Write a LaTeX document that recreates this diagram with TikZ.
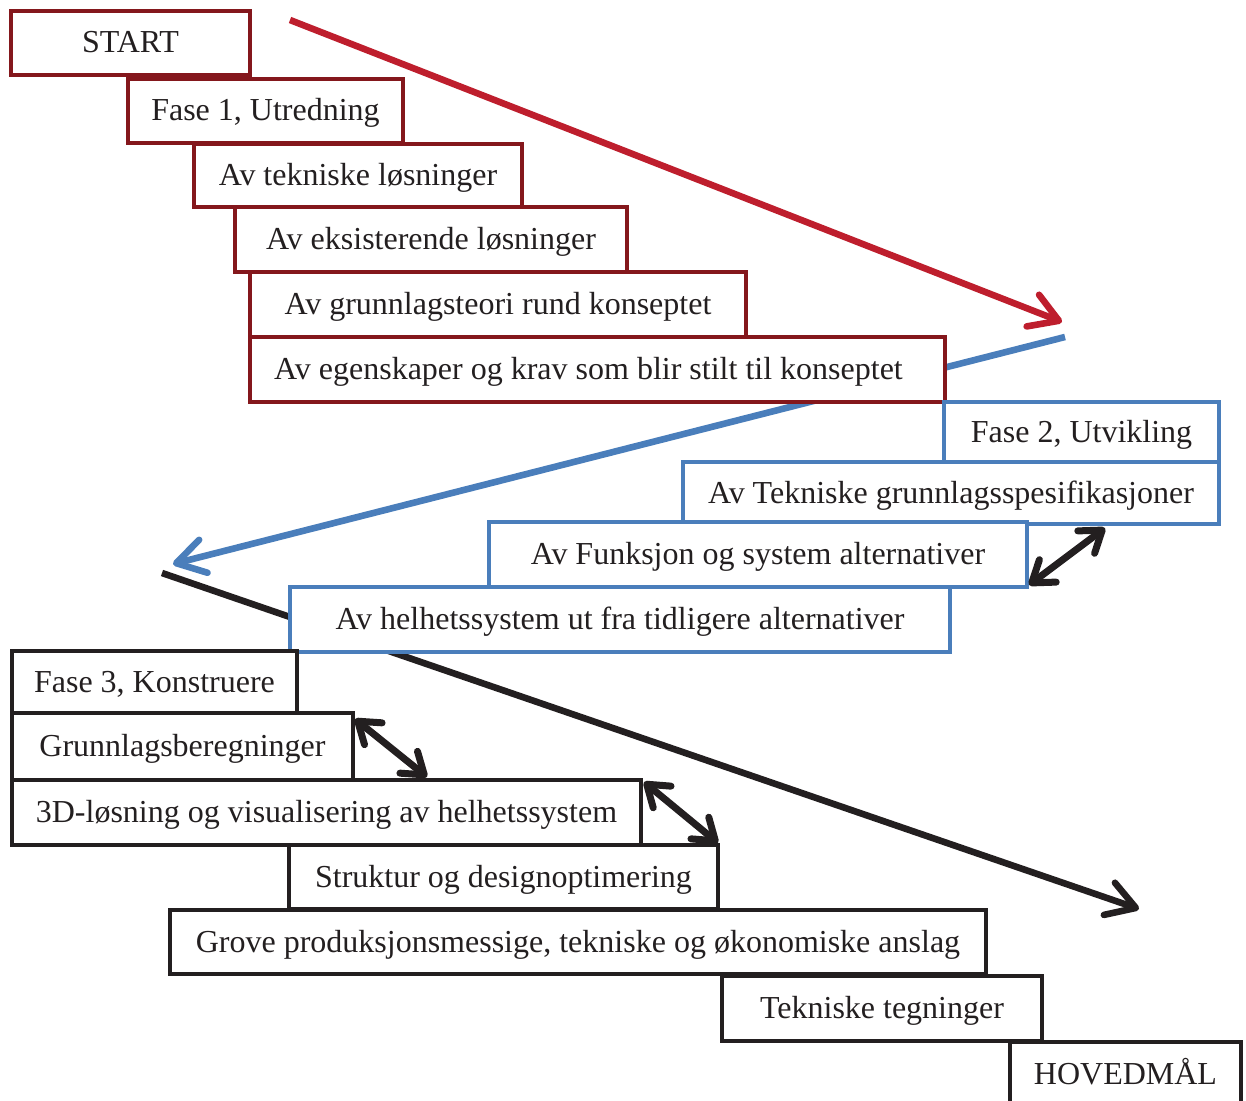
\documentclass[tikz,border=0pt]{standalone}
\usepackage{fontspec}
\setmainfont{Liberation Serif}
\usetikzlibrary{arrows.meta}
\definecolor{boxred}{HTML}{84171C}
\definecolor{arrred}{HTML}{BE1E2D}
\definecolor{myblue}{HTML}{4A7EBB}
\definecolor{myblack}{HTML}{231F20}
\tikzset{
  box/.style={draw, line width=2pt, fill=white, inner sep=0pt, outer sep=0pt, text=myblack,
    font=\fontsize{16}{19}\selectfont, text height=14pt, text depth=4pt},
  sz/.style 2 args={minimum width=#1*0.5pt, minimum height=#2*0.5pt},
  redbox/.style={box, draw=boxred},
  bluebox/.style={box, draw=myblue},
  blackbox/.style={box, draw=myblack},
  flowarrow/.style={line width=3.3pt, -{Straight Barb[length=14pt,width=17pt,round]}},
  dblarrow/.style={line width=3.5pt, draw=myblack, {Straight Barb[length=10pt,width=14pt,round]}-{Straight Barb[length=10pt,width=14pt,round]}}
}
\begin{document}
\begin{tikzpicture}[x=0.5pt,y=-0.5pt]
\useasboundingbox (0,0) rectangle (1246,1101);
\clip (0,0) rectangle (1246,1101);
% coordinates for the main arrows
\coordinate (r1) at (290,20);
\coordinate (r2) at (1062,322);
\coordinate (b1) at (1065,337);
\coordinate (b2) at (173,564);
\coordinate (k1) at (162,573);
\coordinate (k2) at (1139,909);
\draw[flowarrow, draw=arrred] (r1) -- (r2);
\draw[flowarrow, draw=myblue] (b1) -- (b2);
\draw[flowarrow, draw=myblack] (k1) -- (k2);
% phase 1
\node[redbox, sz={239}{64}] (start) at (130.5,43) {START};
\node[redbox, sz={275}{64}] (f1) at (265.5,111) {Fase 1, Utredning};
\node[redbox, sz={328}{63}] (f1a) at (358,175.5) {Av tekniske løsninger};
\node[redbox, sz={392}{65}] (f1b) at (431,239.5) {Av eksisterende løsninger};
\node[redbox, sz={496}{65}] (f1c) at (498,304.5) {Av grunnlagsteori rund konseptet};
\node[redbox, sz={695}{65}] (f1d) at (597.5,369.5) {Av egenskaper og krav som blir stilt til konseptet\hspace*{9pt}};
% phase 2
\node[bluebox, sz={275}{60}] (f2) at (1081.5,432) {Fase 2, Utvikling};
\node[bluebox, sz={536}{62}] (f2a) at (951,493) {Av Tekniske grunnlagsspesifikasjoner};
\node[bluebox, sz={538}{65}] (f2b) at (758,554.5) {Av Funksjon og system alternativer};
\node[bluebox, sz={660}{65}] (f2c) at (620,619.5) {Av helhetssystem ut fra tidligere alternativer};
% phase 3
\node[blackbox, sz={285}{62}] (f3) at (154.5,682) {Fase 3, Konstruere};
\node[blackbox, sz={341}{67}] (f3a) at (182.5,746.5) {Grunnlagsberegninger};
\node[blackbox, sz={629}{65}] (f3b) at (326.5,812.5) {3D-løsning og visualisering av helhetssystem};
\node[blackbox, sz={429}{64}] (f3c) at (503.5,877) {Struktur og designoptimering};
\node[blackbox, sz={816}{64}] (f3d) at (578,942) {Grove produksjonsmessige, tekniske og økonomiske anslag};
\node[blackbox, sz={320}{65}] (f3e) at (882,1008.5) {Tekniske tegninger};
\node[blackbox, sz={231}{64}] (goal) at (1125.5,1074) {HOVEDMÅL};
% double arrows
\coordinate (a1) at (1105,528);
\coordinate (a2) at (427,777);
\draw[dblarrow] ([shift={(2,-2)}]f2b.south east) -- (a1);
\draw[dblarrow] ([shift={(2,6)}]f3a.north east) -- (a2);
\draw[dblarrow] ([shift={(3,2)}]f3b.north east) -- ([shift={(0,-2)}]f3c.north east);
\end{tikzpicture}
\end{document}
